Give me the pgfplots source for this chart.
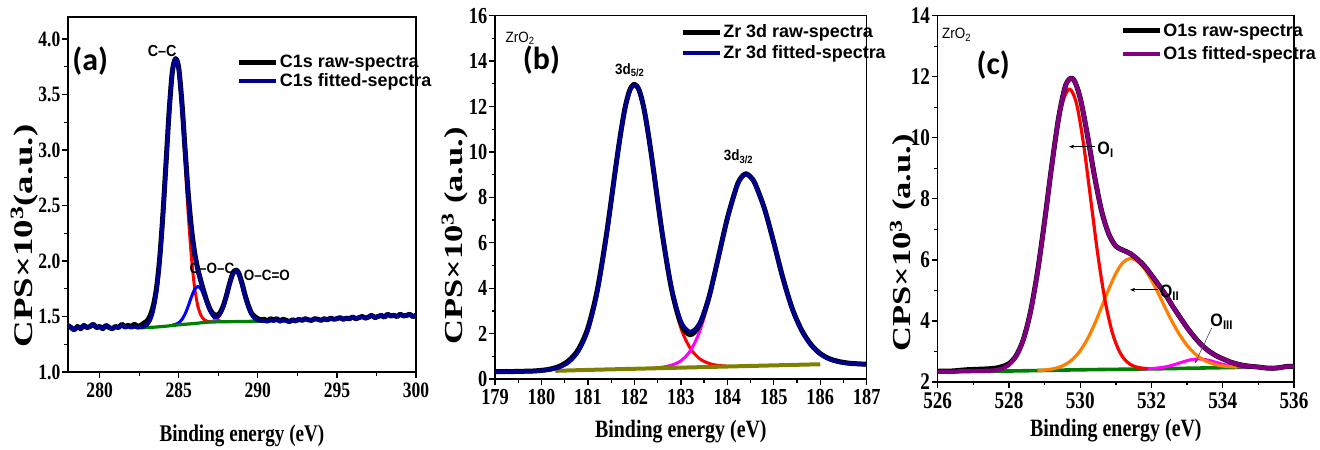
\documentclass[border=0pt]{standalone}
\usepackage{fontspec}
\setmainfont{Liberation Serif}
\newfontfamily\tickfont{Liberation Serif}[FakeStretch=0.8]
\newfontfamily\ylabfont{Liberation Serif}[FakeStretch=1.37]
\newfontfamily\ylabfontb{Liberation Serif}[FakeStretch=1.33]
\newfontfamily\legfont{Liberation Sans}
\newfontfamily\annfont{Liberation Sans}[FakeStretch=0.9]
\newfontfamily\panelfont{Carlito}
\usepackage{pgfplots}
\pgfplotsset{compat=1.18}
\usepackage{pgfplotstable}
\usetikzlibrary{arrows.meta}
\definecolor{navyc}{RGB}{0,0,139}
\definecolor{bluec}{RGB}{0,0,255}
\definecolor{redc}{RGB}{255,0,0}
\definecolor{magc}{RGB}{255,0,255}
\definecolor{greenc}{RGB}{0,128,0}
\definecolor{olivec}{RGB}{128,128,0}
\definecolor{orangec}{RGB}{255,128,0}
\definecolor{purplec}{RGB}{128,0,128}

\pgfplotsset{xps/.style={
  scale only axis, anchor=south west,
  axis line style={line width=1.5bp},
  tick align=outside, tick pos=left,
  major tick length=6bp, minor tick length=3.5bp,
  every tick/.style={black, line width=1.3bp},
  minor x tick num=1, minor y tick num=1,
  /pgf/number format/assume math mode=true,
  legend cell align=left,
  legend image code/.code={\draw[##1] (0bp,0bp) -- (37bp,0bp);},
  every axis plot/.append style={smooth, line join=round},
  xticklabel style={yshift=-3.5bp, inner sep=1bp},
  yticklabel style={inner sep=1.5bp},
}}

% ---------- panel (a) ----------
\pgfplotstableread{
x y
278.0 1.42
278.2 1.40
278.4 1.38
278.6 1.41
278.8 1.39
279.0 1.42
279.2 1.40
279.4 1.41
279.6 1.43
279.8 1.40
280.0 1.41
280.2 1.39
280.4 1.42
280.6 1.40
280.8 1.39
281.0 1.41
281.2 1.40
281.4 1.42
281.6 1.40
281.8 1.41
282.0 1.40
282.2 1.41
282.4 1.40
282.6 1.403
282.8 1.409
283.0 1.427
283.2 1.472
283.4 1.564
283.6 1.735
283.8 2.013
284.0 2.408
284.2 2.884
284.4 3.356
284.6 3.711
284.8 3.827
285.0 3.732
285.2 3.411
285.4 2.991
285.6 2.589
285.8 2.278
286.0 2.070
286.2 1.929
286.4 1.817
286.6 1.712
286.8 1.618
287.0 1.548
287.2 1.506
287.4 1.495
287.6 1.520
287.8 1.582
288.0 1.677
288.2 1.787
288.4 1.879
288.6 1.914
288.8 1.880
289.0 1.789
289.2 1.680
289.4 1.584
289.6 1.519
289.8 1.483
290.0 1.467
290.2 1.461
290.4 1.460
290.6 1.455
290.8 1.465
291.0 1.460
291.2 1.470
291.4 1.455
291.6 1.465
291.8 1.460
292.0 1.450
292.2 1.470
292.4 1.460
292.6 1.475
292.8 1.465
293.0 1.480
293.2 1.470
293.4 1.465
293.6 1.480
293.8 1.475
294.0 1.465
294.2 1.480
294.4 1.470
294.6 1.485
294.8 1.475
295.0 1.480
295.2 1.490
295.4 1.475
295.6 1.485
295.8 1.480
296.0 1.495
296.2 1.480
296.4 1.490
296.6 1.500
296.8 1.485
297.0 1.495
297.2 1.510
297.4 1.490
297.6 1.500
297.8 1.510
298.0 1.495
298.2 1.520
298.4 1.505
298.6 1.510
298.8 1.500
299.0 1.520
299.2 1.505
299.4 1.510
299.6 1.520
299.8 1.500
300.0 1.510
}\aFit
\pgfplotstableread{
x y
278.0 1.42
278.2 1.40
278.4 1.38
278.6 1.41
278.8 1.39
279.0 1.42
279.2 1.40
279.4 1.41
279.6 1.43
279.8 1.40
280.0 1.41
280.2 1.39
280.4 1.42
280.6 1.40
280.8 1.39
281.0 1.41
281.2 1.40
281.4 1.43
281.6 1.41
281.8 1.42
282.0 1.41
282.2 1.43
282.4 1.41
282.6 1.42
282.8 1.44
283.0 1.46
283.2 1.51
283.4 1.60
283.6 1.76
283.8 2.03
284.0 2.42
284.2 2.89
284.4 3.36
284.6 3.71
284.8 3.82
285.0 3.74
285.2 3.43
285.4 3.01
285.6 2.61
285.8 2.30
286.0 2.08
286.2 1.93
286.4 1.82
286.6 1.72
286.8 1.63
287.0 1.56
287.2 1.52
287.4 1.51
287.6 1.53
287.8 1.59
288.0 1.68
288.2 1.79
288.4 1.88
288.6 1.92
288.8 1.89
289.0 1.80
289.2 1.69
289.4 1.60
289.6 1.53
289.8 1.50
290.0 1.48
290.2 1.470
290.4 1.475
290.6 1.460
290.8 1.480
291.0 1.470
291.2 1.480
291.4 1.460
291.6 1.475
291.8 1.465
292.0 1.455
292.2 1.470
292.4 1.460
292.6 1.475
292.8 1.465
293.0 1.480
293.2 1.470
293.4 1.465
293.6 1.480
293.8 1.475
294.0 1.465
294.2 1.480
294.4 1.470
294.6 1.485
294.8 1.475
295.0 1.480
295.2 1.490
295.4 1.475
295.6 1.485
295.8 1.480
296.0 1.495
296.2 1.480
296.4 1.490
296.6 1.500
296.8 1.485
297.0 1.495
297.2 1.510
297.4 1.490
297.6 1.500
297.8 1.510
298.0 1.495
298.2 1.520
298.4 1.505
298.6 1.510
298.8 1.500
299.0 1.520
299.2 1.505
299.4 1.510
299.6 1.520
299.8 1.500
300.0 1.510
}\aRaw
\pgfplotstableread{
x y
282.6 1.403
282.8 1.409
283.0 1.427
283.2 1.472
283.4 1.564
283.6 1.735
283.8 2.013
284.0 2.408
284.2 2.884
284.4 3.356
284.6 3.709
284.8 3.820
285.0 3.714
285.2 3.366
285.4 2.899
285.6 2.428
285.8 2.038
286.0 1.765
286.2 1.599
286.4 1.512
286.6 1.472
286.8 1.457
287.0 1.453
}\aRed
\pgfplotstableread{
x y
284.6 1.422
284.8 1.429
285.0 1.443
285.2 1.473
285.4 1.522
285.6 1.594
285.8 1.675
286.0 1.743
286.2 1.770
286.4 1.748
286.6 1.685
286.8 1.609
287.0 1.542
287.2 1.496
287.4 1.469
287.6 1.458
287.8 1.454
}\aBlue
\pgfplotstableread{
x y
287.0 1.453
287.2 1.460
287.4 1.477
287.6 1.514
287.8 1.580
288.0 1.677
288.2 1.787
288.4 1.879
288.6 1.914
288.8 1.880
289.0 1.789
289.2 1.680
289.4 1.584
289.6 1.519
289.8 1.483
290.0 1.467
290.2 1.461
}\aMag
\pgfplotstableread{
x y
282.6 1.400
283.0 1.400
284.0 1.410
285.0 1.425
286.0 1.437
287.0 1.450
289.0 1.455
290.4 1.459
}\aGreen

% ---------- panel (b) ----------
\pgfplotstableread{
x y
179.0 0.31
179.2 0.32
179.4 0.32
179.6 0.33
179.8 0.34
180.0 0.37
180.2 0.42
180.4 0.53
180.6 0.76
180.8 1.24
181.0 2.15
181.2 3.81
181.4 6.32
181.6 9.33
181.7 10.75
181.8 11.94
181.9 12.70
182.0 12.95
182.1 12.71
182.2 11.96
182.3 10.78
182.4 9.38
182.6 6.42
182.8 4.01
183.0 2.55
183.2 2.08
183.4 2.45
183.6 3.59
183.8 5.30
184.0 7.07
184.2 8.46
184.3 8.87
184.4 9.02
184.5 8.89
184.6 8.58
184.8 7.49
185.0 6.00
185.2 4.41
185.4 3.07
185.6 2.13
185.8 1.49
186.0 1.10
186.2 0.87
186.4 0.75
186.6 0.69
186.8 0.66
187.0 0.64
}\bFit
\pgfplotstableread{
x y
179.0 0.32
179.2 0.33
179.4 0.33
179.6 0.34
179.8 0.35
180.0 0.38
180.2 0.44
180.4 0.57
180.6 0.83
180.8 1.32
181.0 2.25
181.2 3.90
181.4 6.38
181.6 9.35
181.7 10.76
181.8 11.95
181.9 12.72
182.0 12.98
182.1 12.73
182.2 11.97
182.3 10.78
182.4 9.37
182.6 6.40
182.8 3.96
183.0 2.45
183.2 1.95
183.4 2.38
183.6 3.56
183.8 5.29
184.0 7.07
184.2 8.47
184.3 8.88
184.4 9.04
184.5 8.90
184.6 8.59
184.8 7.50
185.0 6.01
185.2 4.42
185.4 3.09
185.6 2.15
185.8 1.52
186.0 1.12
186.2 0.89
186.4 0.77
186.6 0.70
186.8 0.67
187.0 0.65
}\bRaw
\pgfplotstableread{
x y
180.0 0.37
180.2 0.42
180.4 0.53
180.6 0.76
180.8 1.24
181.0 2.15
181.2 3.81
181.4 6.32
181.6 9.33
181.8 11.94
182.0 12.95
182.2 11.96
182.4 9.37
182.6 6.38
182.8 3.89
183.0 2.25
183.2 1.36
183.4 0.90
183.6 0.69
183.8 0.60
184.0 0.57
}\bRed
\pgfplotstableread{
x y
182.4 0.48
182.6 0.52
182.8 0.61
183.0 0.80
183.2 1.23
183.4 2.07
183.6 3.43
183.8 5.24
184.0 7.05
184.2 8.46
184.4 9.02
184.6 8.58
184.8 7.49
185.0 6.00
185.2 4.41
185.4 3.07
185.6 2.13
185.8 1.49
186.0 1.10
186.2 0.87
186.4 0.75
186.6 0.69
186.8 0.66
}\bMag
\pgfplotstableread{
x y
180.3 0.36
181.0 0.40
182.0 0.45
183.0 0.50
184.0 0.55
185.0 0.60
186.0 0.65
}\bBase

% ---------- panel (c) ----------
\pgfplotstableread{
x y
526.0 2.33
526.2 2.34
526.4 2.33
526.6 2.35
526.8 2.35
527.0 2.36
527.2 2.36
527.4 2.37
527.6 2.38
527.8 2.434
528.0 2.565
528.2 2.848
528.4 3.378
528.6 4.275
528.8 5.595
529.0 7.272
529.2 9.083
529.4 10.70
529.6 11.75
529.8 11.93
530.0 11.30
530.2 10.10
530.4 8.75
530.6 7.60
530.8 6.85
531.0 6.45
531.2 6.32
531.4 6.21
531.6 6.03
531.8 5.80
532.0 5.50
532.2 5.18
532.4 4.85
532.6 4.47
532.8 4.12
533.0 3.78
533.2 3.48
533.4 3.22
533.6 3.02
533.8 2.87
534.0 2.76
534.2 2.66
534.4 2.59
534.6 2.54
534.8 2.51
535.0 2.49
535.2 2.46
535.4 2.45
535.6 2.47
535.8 2.51
536.0 2.51
}\cFit
\pgfplotstableread{
x y
526.0 2.35
526.2 2.36
526.4 2.36
526.6 2.38
526.8 2.40
527.0 2.41
527.2 2.42
527.4 2.43
527.6 2.45
527.8 2.50
528.0 2.60
528.2 2.86
528.4 3.38
528.6 4.28
528.8 5.60
529.0 7.27
529.2 9.08
529.4 10.70
529.6 11.75
529.8 11.93
530.0 11.30
530.2 10.10
530.4 8.75
530.6 7.60
530.8 6.85
531.0 6.45
531.2 6.32
531.4 6.21
531.6 6.03
531.8 5.80
532.0 5.50
532.2 5.18
532.4 4.85
532.6 4.47
532.8 4.12
533.0 3.78
533.2 3.48
533.4 3.22
533.6 3.02
533.8 2.87
534.0 2.76
534.2 2.66
534.4 2.59
534.6 2.54
534.8 2.51
535.0 2.49
535.2 2.46
535.4 2.45
535.6 2.47
535.8 2.51
536.0 2.51
}\cRaw
\pgfplotstableread{
x y
527.5 2.367
527.7 2.401
527.9 2.486
528.1 2.682
528.3 3.077
528.5 3.777
528.7 4.874
528.9 6.378
529.1 8.142
529.3 9.866
529.5 11.13
529.7 11.60
529.9 11.10
530.1 9.74
530.3 7.93
530.5 6.12
530.7 4.65
530.9 3.62
531.1 3.00
531.3 2.67
531.5 2.52
531.7 2.46
531.9 2.44
}\cRed
\pgfplotstableread{
x y
528.8 2.375
529.0 2.392
529.2 2.423
529.4 2.482
529.6 2.586
529.8 2.759
530.0 3.025
530.2 3.403
530.4 3.890
530.6 4.457
530.8 5.041
531.0 5.557
531.2 5.917
531.4 6.048
531.6 5.965
531.8 5.715
532.0 5.338
532.2 4.881
532.4 4.395
532.6 3.934
532.8 3.528
533.0 3.198
533.2 2.944
533.4 2.765
533.6 2.645
533.8 2.570
534.0 2.526
534.2 2.503
534.4 2.492
}\cOrange
\pgfplotstableread{
x y
531.7 2.426
531.9 2.434
532.1 2.449
532.3 2.477
532.5 2.523
532.7 2.590
532.9 2.666
533.1 2.729
533.3 2.756
533.5 2.737
533.7 2.682
533.9 2.614
534.1 2.555
534.3 2.517
534.5 2.497
534.7 2.490
}\cMag
\pgfplotstableread{
x y
526.0 2.34
528.0 2.36
530.0 2.40
532.0 2.43
534.0 2.47
535.0 2.49
}\cGreen

\begin{document}
\begin{tikzpicture}
\useasboundingbox (0,0) rectangle (1320bp,450bp);

% ================= (a) =================
\begin{axis}[xps,
  at={(68bp,78bp)}, width=348bp, height=355.2bp,
  xmin=278, xmax=300, ymin=1.0, ymax=4.2,
  xtick={280,285,290,295,300}, ytick={1.0,1.5,2.0,2.5,3.0,3.5,4.0},
  yticklabel style={/pgf/number format/.cd, fixed, fixed zerofill, precision=1},
  tick label style={font=\fontsize{22}{22}\selectfont\tickfont\bfseries},
  xlabel={Binding energy (eV)},
  xlabel style={font=\fontsize{24}{24}\selectfont\tickfont\bfseries, at={(axis description cs:0.5,0)}, yshift=-64bp, anchor=center},
  ylabel={CPS×10\textsuperscript{3}(a.u.)},
  ylabel style={font=\fontsize{27}{27}\selectfont\ylabfont\bfseries, at={(axis description cs:-0.126,0.383)}, anchor=center},
  legend style={draw=none, fill=none, at={(0.485,0.895)}, anchor=north west,
    font=\fontsize{18}{20}\selectfont\legfont\bfseries, inner sep=0pt, row sep=2.5bp,
    nodes={inner sep=1bp}},
]
\addplot[redc, line width=3bp, forget plot] table {\aRed};
\addplot[bluec, line width=3bp, forget plot] table {\aBlue};
\addplot[magc, line width=3bp, forget plot] table {\aMag};
\addplot[greenc, line width=3.2bp, forget plot] table {\aGreen};
\addplot[black, line width=5bp] table {\aRaw};
\addlegendentry{C1s raw-spectra}
\addplot[navyc, line width=4bp] table {\aFit};
\addlegendentry{C1s fitted-sepctra}
\node[font=\fontsize{32}{32}\selectfont\panelfont\bfseries] at (axis cs:279.4,3.80) {(a)};
\node[font=\fontsize{16}{16}\selectfont\annfont\bfseries] at (axis cs:283.95,3.89) {C–C};
\node[font=\fontsize{15}{15}\selectfont\annfont\bfseries] at (axis cs:287.1,1.93) {C–O–C};
\node[font=\fontsize{15}{15}\selectfont\annfont\bfseries] at (axis cs:290.57,1.87) {O–C=O};
\end{axis}

% ================= (b) =================
\begin{axis}[xps,
  at={(495bp,71bp)}, width=371.7bp, height=363.3bp,
  xmin=179, xmax=187, ymin=0, ymax=16,
  xtick={179,180,...,187}, ytick={0,2,...,16},
  tick label style={font=\fontsize{23}{23}\selectfont\tickfont\bfseries},
  xlabel={Binding energy (eV)},
  xlabel style={font=\fontsize{25}{25}\selectfont\tickfont\bfseries, at={(axis description cs:0.5,0)}, yshift=-53bp, anchor=center},
  ylabel={CPS×10\textsuperscript{3} (a.u.)},
  ylabel style={font=\fontsize{26}{26}\selectfont\ylabfontb\bfseries, at={(axis description cs:-0.108,0.394)}, anchor=center},
  legend style={draw=none, fill=none, at={(0.498,0.978)}, anchor=north west,
    font=\fontsize{18}{20}\selectfont\legfont\bfseries, inner sep=0pt, row sep=4.5bp,
    nodes={inner sep=1bp}},
]
\addplot[redc, line width=3bp, forget plot] table {\bRed};
\addplot[magc, line width=3bp, forget plot] table {\bMag};
\addplot[olivec, line width=4bp, forget plot] table {\bBase};
\addplot[black, line width=5bp] table {\bRaw};
\addlegendentry{Zr 3d raw-spectra}
\addplot[navyc, line width=4bp] table {\bFit};
\addlegendentry{Zr 3d fitted-spectra}
\node[font=\fontsize{15}{15}\selectfont\annfont] at (axis cs:179.54,15.0) {ZrO\textsubscript{2}};
\node[font=\fontsize{32}{32}\selectfont\panelfont\bfseries] at (axis cs:180.0,14.05) {(b)};
\node[font=\fontsize{15}{15}\selectfont\annfont\bfseries] at (axis cs:181.9,13.6) {3d\textsubscript{5/2}};
\node[font=\fontsize{15}{15}\selectfont\annfont\bfseries] at (axis cs:184.24,9.79) {3d\textsubscript{3/2}};
\end{axis}

% ================= (c) =================
\begin{axis}[xps,
  at={(937.7bp,68bp)}, width=356.3bp, height=366.3bp,
  xmin=526, xmax=536, ymin=2, ymax=14,
  xtick={526,528,...,536}, ytick={2,4,...,14},
  tick label style={font=\fontsize{24}{24}\selectfont\tickfont\bfseries},
  xlabel={Binding energy (eV)},
  xlabel style={font=\fontsize{25}{25}\selectfont\tickfont\bfseries, at={(axis description cs:0.5,0)}, yshift=-49bp, anchor=center},
  ylabel={CPS×10\textsuperscript{3} (a.u.)},
  ylabel style={font=\fontsize{26}{26}\selectfont\ylabfontb\bfseries, at={(axis description cs:-0.097,0.38)}, anchor=center},
  legend style={draw=none, fill=none, at={(0.512,0.981)}, anchor=north west,
    font=\fontsize{18}{20}\selectfont\legfont\bfseries, inner sep=0pt, row sep=6.5bp,
    nodes={inner sep=1bp}},
]
\addplot[greenc, line width=3.6bp, forget plot] table {\cGreen};
\addplot[magc, line width=3bp, forget plot] table {\cMag};
\addplot[orangec, line width=3.2bp, forget plot] table {\cOrange};
\addplot[redc, line width=3.2bp, forget plot] table {\cRed};
\addplot[black, line width=5bp] table {\cRaw};
\addlegendentry{O1s raw-spectra}
\addplot[purplec, line width=4.2bp] table {\cFit};
\addlegendentry{O1s fitted-spectra}
\node[font=\fontsize{15}{15}\selectfont\annfont] at (axis cs:526.53,13.38) {ZrO\textsubscript{2}};
\node[font=\fontsize{32}{32}\selectfont\panelfont\bfseries] at (axis cs:527.56,12.39) {(c)};
\draw[-{Stealth[length=5bp,width=4bp]}, line width=0.7bp] (axis cs:530.42,9.71) -- (axis cs:529.69,9.71);
\node[anchor=west, inner sep=1bp, font=\fontsize{18}{18}\selectfont\annfont\bfseries] at (axis cs:530.45,9.62) {O\textsubscript{I}};
\draw[-{Stealth[length=5bp,width=4bp]}, line width=0.7bp] (axis cs:532.19,5.02) -- (axis cs:531.40,5.02);
\node[anchor=west, inner sep=1bp, font=\fontsize{18}{18}\selectfont\annfont\bfseries] at (axis cs:532.2,4.93) {O\textsubscript{II}};
\draw[-{Stealth[length=4bp,width=3bp]}, line width=0.6bp, black!70] (axis cs:533.69,3.77) -- (axis cs:533.22,2.61);
\node[font=\fontsize{18}{18}\selectfont\annfont\bfseries] at (axis cs:533.97,3.98) {O\textsubscript{III}};
\end{axis}
\end{tikzpicture}
\end{document}
